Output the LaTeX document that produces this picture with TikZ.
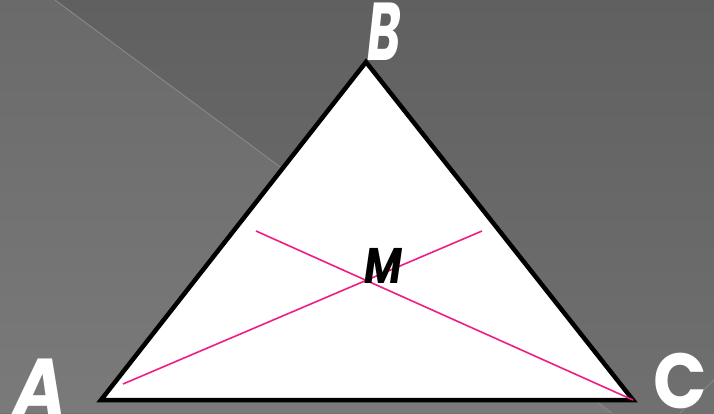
\documentclass[tikz,border=0pt]{standalone}
\usepackage{fontspec}
\newfontfamily\labelfont{Poppins}
\definecolor{bgdark}{RGB}{96,96,96}
\definecolor{bgdarkb}{RGB}{112,112,112}
\definecolor{bglight}{RGB}{106,106,106}
\definecolor{bglightb}{RGB}{122,122,122}
\definecolor{streak}{RGB}{140,140,140}
\definecolor{pinkline}{RGB}{240,30,130}
\tikzset{
  vlabel/.style={font=\labelfont\bfseries\itshape\fontsize{82}{82}\selectfont, text=white, inner sep=0pt, anchor=base},
  clabel/.style={font=\labelfont\bfseries\fontsize{78}{78}\selectfont, text=white, inner sep=0pt, anchor=base},
  mlabel/.style={font=\labelfont\bfseries\itshape\fontsize{50}{50}\selectfont, text=black, inner sep=0pt, anchor=base},
  tri/.style={draw=black, line width=4.5pt, fill=white, line join=miter},
  median/.style={draw=pinkline, line width=1.6pt},
}
\begin{document}
\begin{tikzpicture}[x={(1pt,0)}, y={(0,-1pt)}]
\useasboundingbox (0,0) rectangle (714,413);
% background
\shade[top color=bgdark, bottom color=bgdarkb] (0,0) rectangle (714,413);
\shade[top color=bglight, bottom color=bglightb] (0,0) -- (55,0) -- (612,413) -- (0,413) -- cycle;
\draw[streak, line width=0.8pt] (55,0) -- (612,413);
\draw[streak, line width=0.8pt] (714,380) -- (680,413);
% triangle
\coordinate (A) at (101,400);
\coordinate (B) at (366,62);
\coordinate (C) at (633,400);
\filldraw[tri] (A) -- (B) -- (C) -- cycle;
% medians
\coordinate (p1) at (123,384);
\coordinate (q1) at (482,231);
\coordinate (p2) at (256,231);
\draw[median] (p1) -- (q1);
\draw[median] (p2) -- (C);
% labels
\node[vlabel] (la) at (40,416) {\scalebox{0.88}[1]{A}};
\node[vlabel] (lb) at (384,60) {\scalebox{0.62}[1]{B}};
\node[clabel] (lc) at (680,408) {\scalebox{0.9}[1]{C}};
\node[mlabel] (lm) at (383,283) {\scalebox{0.82}[1]{M}};
\end{tikzpicture}
\end{document}
